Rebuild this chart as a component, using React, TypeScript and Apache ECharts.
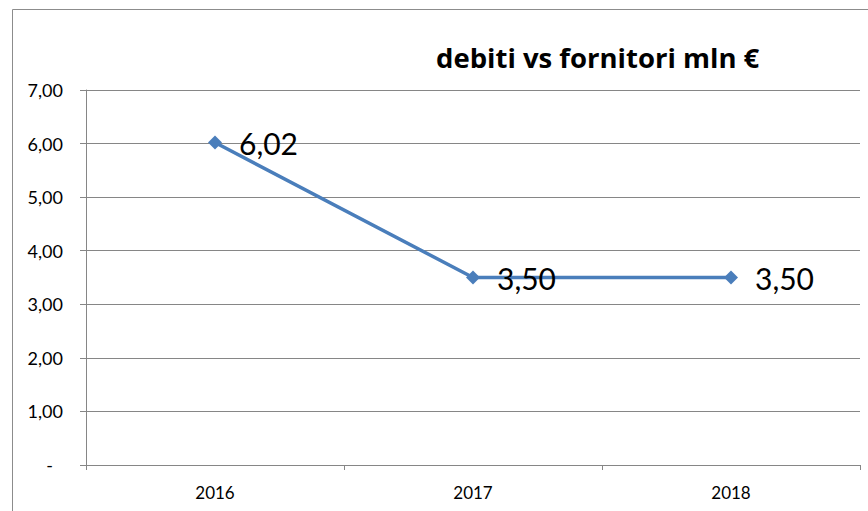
import React, { useEffect, useRef } from "react";
import * as echarts from "echarts";

const categories = ["2016", "2017", "2018"];
const values = [6.02, 3.5, 3.5];
const yTicks = { min: 0, max: 7, interval: 1 };
const titleText = "debiti vs fornitori mln €";

const fmt = (v: number) => v.toFixed(2).replace(".", ",");

export default function App() {
  const ref = useRef<HTMLDivElement>(null);
  useEffect(() => {
    if (!ref.current) return;
    const chart = echarts.init(ref.current, null, { renderer: "svg" });
    chart.setOption({
      animation: false,
      backgroundColor: "#ffffff",
      textStyle: { fontFamily: "Lato" },
      title: {
        text: titleText,
        left: 431,
        top: 38,
        textStyle: { fontFamily: "Open Sans", fontWeight: "bold", fontSize: 27.5, color: "#000" },
      },
      graphic: [
        {
          type: "rect",
          shape: { x: 12.5, y: 9.5, width: 1000, height: 1000 },
          style: { fill: "none", stroke: "#8c8c8c", lineWidth: 1 },
          silent: true,
        },
      ],
      grid: { left: 86, right: 8, top: 90, bottom: 46 },
      xAxis: {
        type: "category",
        data: categories,
        boundaryGap: true,
        axisLine: { lineStyle: { color: "#868686", width: 1 } },
        axisTick: { show: true, length: 5, lineStyle: { color: "#868686" } },
        axisLabel: { color: "#000", fontSize: 17, margin: 19, fontFamily: "Lato" },
      },
      yAxis: {
        type: "value",
        min: yTicks.min,
        max: yTicks.max,
        interval: yTicks.interval,
        axisLine: { show: true, lineStyle: { color: "#868686", width: 1 } },
        axisTick: { show: true, length: 6, inside: false, lineStyle: { color: "#868686" } },
        splitLine: { show: true, lineStyle: { color: "#868686", width: 1 } },
        axisLabel: {
          color: "#000",
          fontSize: 18,
          margin: 23,
          fontFamily: "Lato",
          formatter: (v: number) => (v === 0 ? "{d|-}" : fmt(v)),
          rich: { d: { fontSize: 18, color: "#000", padding: [0, 10, 0, 0], fontFamily: "Lato" } },
        },
      },
      series: [
        {
          type: "line",
          data: values,
          symbol: "diamond",
          symbolSize: 14,
          itemStyle: { color: "#4A7EBB" },
          lineStyle: { color: "#4A7EBB", width: 3.5 },
          label: {
            show: true,
            position: "right",
            distance: 17,
            color: "#000",
            fontSize: 30,
            fontFamily: "Lato",
            formatter: (p: any) => fmt(p.value),
          },
        },
      ],
    });
    return () => chart.dispose();
  }, []);
  return (
    <div
      ref={ref}
      style={{ position: "fixed", left: 0, top: 0, width: 868, height: 511 }}
    />
  );
}
